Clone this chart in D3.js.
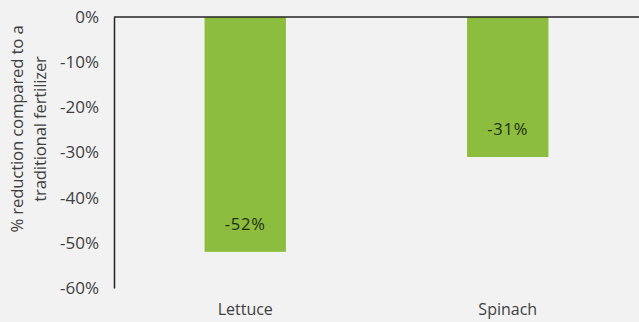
<!DOCTYPE html>
<head>
<meta charset="utf-8">
<style>
body { margin: 0; background: #f2f2f2; }
svg { display: block; background: #f2f2f2; }
text { font-family: "Open Sans", sans-serif; fill: #404040; }
</style>
</head>
<body>
<script src="https://cdn.jsdelivr.net/npm/d3@7"></script>
<script>

var crops = ["Lettuce", "Spinach"];
var reduction = [-52, -31];
var yTicks = [0, -10, -20, -30, -40, -50, -60];
var titleLines = ["% reduction compared to a", "traditional fertilizer"];

var width = 639, height = 322;
var margin = {top: 17, right: 0, bottom: 34, left: 114};

var svg = d3.select("body").append("svg")
    .attr("width", width)
    .attr("height", height);

var x = d3.scaleBand()
    .domain(crops)
    .range([margin.left, width - margin.right])
    .paddingInner(0.69)
    .paddingOuter(0.345);

var y = d3.scaleLinear()
    .domain([0, -60])
    .range([margin.top, height - margin.bottom]);

// bars
svg.append("g")
    .selectAll("rect")
    .data(crops)
    .enter().append("rect")
    .attr("x", d => x(d))
    .attr("width", x.bandwidth())
    .attr("y", y(0))
    .attr("height", (d, i) => y(reduction[i]) - y(0))
    .attr("fill", "#8cbd3f");

// value labels
svg.append("g")
    .selectAll("text")
    .data(crops)
    .enter().append("text")
    .attr("x", d => x(d) + x.bandwidth() / 2)
    .attr("y", (d, i) => y(reduction[i]) - 22)
    .attr("text-anchor", "middle")
    .style("font-size", "16.5px")
    .style("letter-spacing", "0.8px")
    .style("fill", "#1f2f14")
    .text((d, i) => reduction[i] + "%");

// y axis
var yAxis = svg.append("g")
    .attr("transform", "translate(" + margin.left + ",0)")
    .call(d3.axisLeft(y).tickValues(yTicks).tickSize(0).tickPadding(15)
        .tickFormat(d => d + "%"));
yAxis.select(".domain").attr("stroke", "#262626").attr("stroke-width", 1.5);
yAxis.selectAll("text").style("font-size", "17px").style("fill", "#404040")
    .style("font-family", "'Open Sans', sans-serif");

// zero line along the top
svg.append("line")
    .attr("x1", margin.left)
    .attr("x2", width)
    .attr("y1", y(0))
    .attr("y2", y(0))
    .attr("stroke", "#262626")
    .attr("stroke-width", 1.5);

// category labels
svg.append("g")
    .selectAll("text")
    .data(crops)
    .enter().append("text")
    .attr("x", d => x(d) + x.bandwidth() / 2)
    .attr("y", 315)
    .attr("text-anchor", "middle")
    .style("font-size", "16px")
    .text(d => d);

// axis title
var title = svg.append("text")
    .attr("transform", "translate(0,129) rotate(-90)")
    .attr("text-anchor", "middle")
    .style("font-size", "16.8px")
    .style("letter-spacing", "-0.2px");
title.selectAll("tspan")
    .data(titleLines)
    .enter().append("tspan")
    .attr("x", 0)
    .attr("y", (d, i) => 23 + i * 23)
    .text(d => d);

</script>
</body>
</html>
